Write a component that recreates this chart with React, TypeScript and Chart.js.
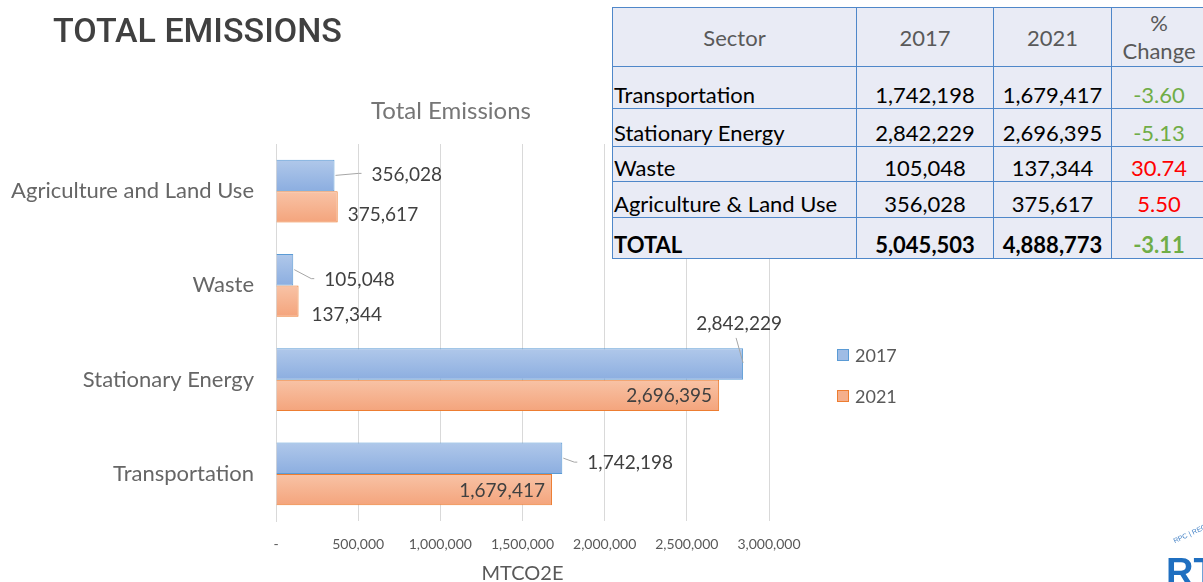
import React, { useEffect, useRef } from "react";
import { Chart, registerables } from "chart.js";

Chart.register(...registerables);

// ---------- data ----------
const categories = ["Agriculture and Land Use", "Waste", "Stationary Energy", "Transportation"];
const seriesNames = ["2017", "2021"];
const values2017 = [356028, 105048, 2842229, 1742198];
const values2021 = [375617, 137344, 2696395, 1679417];
const xTickValues = [0, 500000, 1000000, 1500000, 2000000, 2500000, 3000000];
const axisTitle = "MTCO2E";
const chartTitle = "Total Emissions";
const slideTitle = "TOTAL EMISSIONS";

const tableHeaders = ["Sector", "2017", "2021", "%\nChange"];
const tableSectors = ["Transportation", "Stationary Energy", "Waste", "Agriculture & Land Use", "TOTAL"];
const table2017 = [1742198, 2842229, 105048, 356028, 5045503];
const table2021 = [1679417, 2696395, 137344, 375617, 4888773];
const tableChange = [-3.6, -5.13, 30.74, 5.5, -3.11];

// ---------- styles ----------
const FONT = "Lato, 'Noto Sans', sans-serif";
const BLUE_FILL = "#9fbce5";
const BLUE_TOP = "#b0c8ea";
const BLUE_BOTTOM = "#8caee0";
const BLUE_BORDER = "#5b9bd5";
const ORANGE_FILL = "#f5af8c";
const ORANGE_TOP = "#f8c3a6";
const ORANGE_BOTTOM = "#f4a47c";
const ORANGE_BORDER = "#ed7d31";
const GRID = "#d9d9d9";
const AXIS_TEXT = "#595959";
const LABEL_TEXT = "#404040";
const CAT_PCT = 0.668;

// label placement relative to bar end (x) and bar centre (y)
const labelLayout2017 = [
  { dx: 37, dy: -1, align: "left", leader: "side" },
  { dx: 31, dy: 10, align: "left", leader: "side" },
  { dx: -4, dy: -40, align: "center", leader: "above" },
  { dx: 25, dy: 5, align: "left", leader: "side" },
];
const labelLayout2021 = [
  { dx: 10, dy: 8, align: "left", leader: "" },
  { dx: 13, dy: 14, align: "left", leader: "" },
  { dx: -7, dy: 1, align: "right", leader: "" },
  { dx: -7, dy: 1, align: "right", leader: "" },
];
const labelLayouts = [labelLayout2017, labelLayout2021];

const fmt = (v: number) => v.toLocaleString("en-US");

// vertical gradient per bar, derived from the category scale
const barGradient = (top: string, bottom: string, fallback: string) => (c: any) => {
  const chart = c.chart;
  const ys = chart.scales && chart.scales.y;
  if (!ys || c.dataIndex === undefined || !chart.chartArea) return fallback;
  const centre = ys.getPixelForValue(c.dataIndex);
  const band = ys.height / categories.length;
  const thick = (band * CAT_PCT) / 2;
  const y0 = c.datasetIndex === 0 ? centre - thick : centre;
  const y1 = y0 + thick;
  if (!isFinite(y0) || !isFinite(y1)) return fallback;
  const g = chart.ctx.createLinearGradient(0, y0, 0, y1);
  g.addColorStop(0, top);
  g.addColorStop(1, bottom);
  return g;
};

const barLabelPlugin = {
  id: "barLabels",
  afterDatasetsDraw(chart: any) {
    const ctx = chart.ctx;
    ctx.save();
    ctx.font = `19px ${FONT}`;
    ctx.textBaseline = "middle";
    chart.data.datasets.forEach((ds: any, di: number) => {
      const meta = chart.getDatasetMeta(di);
      const layout = labelLayouts[di];
      meta.data.forEach((bar: any, i: number) => {
        const { x, y } = bar.getProps(["x", "y"], true);
        const L = layout[i];
        const lx = x + L.dx;
        const ly = y + L.dy;
        if (L.leader) {
          ctx.strokeStyle = "#a6a6a6";
          ctx.lineWidth = 1;
          ctx.beginPath();
          if (L.leader === "side") {
            ctx.moveTo(x + 1, y);
            ctx.lineTo(lx - 13, ly - 1);
            ctx.lineTo(lx - 10, ly - 1);
          } else {
            ctx.moveTo(x, y - 1);
            ctx.lineTo(lx - 3, ly + 14);
          }
          ctx.stroke();
        }
        ctx.fillStyle = LABEL_TEXT;
        ctx.textAlign = L.align;
        ctx.fillText(fmt(ds.data[i]), lx, ly);
      });
    });
    ctx.restore();
  },
};

function BarChart() {
  const ref = useRef<HTMLCanvasElement | null>(null);
  useEffect(() => {
    if (!ref.current) return;
    const chart = new Chart(ref.current, {
      type: "bar",
      data: {
        labels: categories,
        datasets: [
          {
            label: seriesNames[0],
            data: values2017,
            backgroundColor: barGradient(BLUE_TOP, BLUE_BOTTOM, BLUE_FILL),
            borderColor: BLUE_BORDER,
            borderWidth: 1,
            categoryPercentage: CAT_PCT,
            barPercentage: 1,
          },
          {
            label: seriesNames[1],
            data: values2021,
            backgroundColor: barGradient(ORANGE_TOP, ORANGE_BOTTOM, ORANGE_FILL),
            borderColor: ORANGE_BORDER,
            borderWidth: 1,
            categoryPercentage: CAT_PCT,
            barPercentage: 1,
          },
        ],
      },
      options: {
        indexAxis: "y",
        responsive: false,
        animation: false,
        layout: { padding: { left: 0, top: 144, right: 434, bottom: 0 } },
        plugins: {
          legend: { display: false },
          title: { display: false },
          tooltip: { enabled: false },
        },
        scales: {
          x: {
            min: 0,
            max: 3000000,
            afterBuildTicks: (scale: any) => {
              scale.ticks = xTickValues.map((v) => ({ value: v }));
            },
            afterFit: (scale: any) => {
              scale.height = 61;
            },
            grid: { color: GRID, lineWidth: 1, drawTicks: false },
            border: { display: false },
            ticks: {
              padding: 15,
              color: AXIS_TEXT,
              font: { family: FONT, size: 14 },
              callback: (v: any) => (Number(v) === 0 ? "-" : fmt(Number(v))),
            },
            title: {
              display: true,
              text: axisTitle,
              color: AXIS_TEXT,
              font: { family: FONT, size: 20 },
              padding: { top: 0, bottom: -4 },
            },
          },
          y: {
            afterFit: (scale: any) => {
              scale.width = 276;
            },
            grid: { display: false, drawTicks: false },
            border: { display: true, color: GRID },
            ticks: {
              padding: 22,
              color: "#666666",
              font: { family: FONT, size: 22 },
            },
          },
        },
      },
      plugins: [barLabelPlugin],
    } as any);
    return () => chart.destroy();
  }, []);
  return <canvas ref={ref} width={1203} height={582} style={{ position: "absolute", left: 0, top: 0, display: "block" }} />;
}

function SummaryTable() {
  const colW = [244, 137, 118, 95];
  const rowH = [42, 38, 35, 36, 41];
  const border = "1px solid #4f87c9";
  const cellBase: React.CSSProperties = {
    border,
    padding: "0 2px 1px 2px",
    fontFamily: FONT,
    fontSize: 22,
    lineHeight: "25px",
    verticalAlign: "bottom",
    boxSizing: "border-box",
    whiteSpace: "nowrap",
    overflow: "hidden",
  };
  return (
    <table
      style={{
        position: "absolute",
        left: 612,
        top: 7,
        borderCollapse: "collapse",
        background: "#e9ebf5",
        tableLayout: "fixed",
        width: colW.reduce((a, b) => a + b, 0),
      }}
    >
      <colgroup>
        {colW.map((w, i) => (
          <col key={i} style={{ width: w }} />
        ))}
      </colgroup>
      <tbody>
        <tr style={{ height: 59 }}>
          {tableHeaders.map((h, i) => (
            <td
              key={i}
              style={{
                ...cellBase,
                color: AXIS_TEXT,
                textAlign: "center",
                verticalAlign: "middle",
                lineHeight: "28px",
                whiteSpace: "pre-line",
                paddingBottom: 0,
                paddingTop: i === 3 ? 0 : 2,
              }}
            >
              {h}
            </td>
          ))}
        </tr>
        {tableSectors.map((s, r) => {
          const bold = r === tableSectors.length - 1;
          const fw = bold ? 700 : 400;
          return (
            <tr key={r} style={{ height: rowH[r] }}>
              <td style={{ ...cellBase, textAlign: "left", color: "#000", fontWeight: fw, paddingLeft: 1 }}>{s}</td>
              <td style={{ ...cellBase, textAlign: "center", color: "#000", fontWeight: fw }}>{fmt(table2017[r])}</td>
              <td style={{ ...cellBase, textAlign: "center", color: "#000", fontWeight: fw }}>{fmt(table2021[r])}</td>
              <td
                style={{
                  ...cellBase,
                  textAlign: "center",
                  color: tableChange[r] < 0 ? "#70ad47" : "#ff0000",
                  fontWeight: fw,
                }}
              >
                {tableChange[r].toFixed(2)}
              </td>
            </tr>
          );
        })}
      </tbody>
    </table>
  );
}

function Legend() {
  const items = [
    { name: seriesNames[0], fill: BLUE_FILL, border: BLUE_BORDER, top: 349 },
    { name: seriesNames[1], fill: ORANGE_FILL, border: ORANGE_BORDER, top: 390 },
  ];
  return (
    <>
      {items.map((it) => (
        <div key={it.name} style={{ position: "absolute", left: 837, top: it.top - 1, height: 14, display: "flex", alignItems: "center" }}>
          <div style={{ width: 12, height: 12, background: it.fill, border: `1px solid ${it.border}`, boxSizing: "border-box" }} />
          <span style={{ marginLeft: 6, fontFamily: FONT, fontSize: 18, color: AXIS_TEXT, lineHeight: "14px" }}>{it.name}</span>
        </div>
      ))}
    </>
  );
}

export default function App() {
  return (
    <div
      style={{
        position: "absolute",
        left: 0,
        top: 0,
        width: 1203,
        height: 582,
        overflow: "hidden",
        background: "#ffffff",
      }}
    >
      <BarChart />
      <div
        style={{
          position: "absolute",
          left: 53,
          top: 13,
          fontFamily: "Roboto, 'Liberation Sans', sans-serif",
          fontWeight: 500,
          fontSize: 34,
          lineHeight: "34px",
          color: "#404040",
          whiteSpace: "nowrap",
        }}
      >
        {slideTitle}
      </div>
      <div
        style={{
          position: "absolute",
          left: 301,
          width: 300,
          top: 96,
          textAlign: "center",
          fontFamily: FONT,
          fontSize: 24,
          lineHeight: "28px",
          color: "#767676",
        }}
      >
        {chartTitle}
      </div>
      <Legend />
      <SummaryTable />
      <div
        style={{
          position: "absolute",
          left: 1166,
          top: 553,
          fontFamily: "'Liberation Sans', sans-serif",
          fontWeight: 700,
          fontSize: 38,
          lineHeight: "38px",
          color: "#1f6fc0",
          whiteSpace: "nowrap",
        }}
      >
        RT
      </div>
      <div
        style={{
          position: "absolute",
          left: 1172,
          top: 530,
          fontFamily: "'Liberation Sans', sans-serif",
          fontSize: 7,
          color: "#4a86c8",
          transform: "rotate(-25deg)",
          whiteSpace: "nowrap",
        }}
      >
        RPC | REG
      </div>
    </div>
  );
}
